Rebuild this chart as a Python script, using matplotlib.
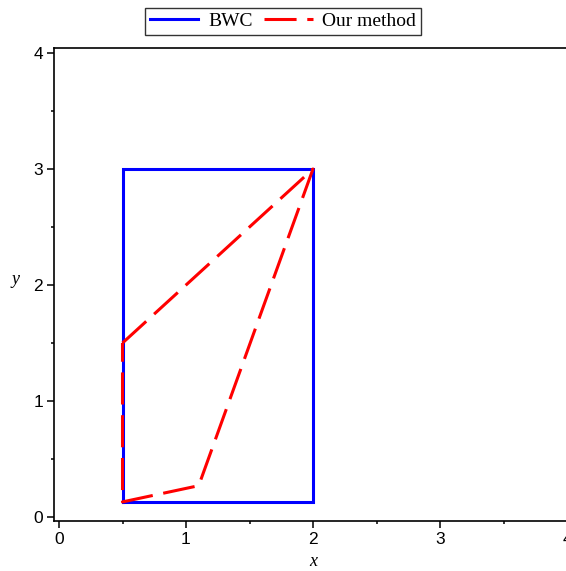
import matplotlib
matplotlib.use("Agg")
import matplotlib.pyplot as plt
from matplotlib.ticker import MultipleLocator

# Data
bwc_x = [0.5, 2.0, 2.0, 0.5, 0.5]
bwc_y = [0.13, 0.13, 3.0, 3.0, 0.13]
our_x = [0.5, 2.0, 1.1, 0.5, 0.5]
our_y = [1.5, 3.0, 0.27, 0.13, 1.5]
xticks = [0, 1, 2, 3, 4]
yticks = [0, 1, 2, 3, 4]

W, H = 566, 571
fig = plt.figure(figsize=(W / 100, H / 100), dpi=100)
left, right, bottom, top = 54, 585, 521, 48
ax = fig.add_axes([left / W, (H - bottom) / H, (right - left) / W, (bottom - top) / H])

px_per_x = 127.0
x0_px = 59
ax.set_xlim((left - x0_px) / px_per_x, (right - x0_px) / px_per_x)
px_per_y = 116.0
y0_px = 517
ax.set_ylim(-(bottom - y0_px) / px_per_y, (y0_px - top) / px_per_y)

ax.plot(bwc_x, bwc_y, color="#0000ff", lw=2.2, label="BWC", zorder=2,
        solid_joinstyle="miter")
ax.plot(our_x, our_y, color="#ff0000", lw=2.2, label="Our method", zorder=3,
        dashes=(10.5, 3.5))

ax.set_xticks(xticks)
ax.set_yticks(yticks)
ax.xaxis.set_minor_locator(MultipleLocator(0.5))
ax.yaxis.set_minor_locator(MultipleLocator(0.5))
ax.tick_params(which="major", direction="out", length=5, width=1.1,
               labelsize=12.5, pad=3)
ax.tick_params(which="minor", direction="out", length=2.5, width=1.1)
for lab in ax.get_xticklabels() + ax.get_yticklabels():
    lab.set_family("Liberation Sans")

for s in ["left", "top", "bottom"]:
    ax.spines[s].set_linewidth(1.2)
ax.spines["right"].set_visible(False)

ax.set_xlabel("x", family="Liberation Serif", style="italic", fontsize=13, labelpad=0)
ax.xaxis.set_label_coords((313 - left) / (right - left), -(553 - bottom) / (bottom - top))
ax.set_ylabel("y", family="Liberation Serif", style="italic", fontsize=13, rotation=0)
ax.yaxis.set_label_coords(-(left - 16) / (right - left), (bottom - 288) / (bottom - top))

leg = fig.legend(loc="center", bbox_to_anchor=(283 / W, 1 - 21.5 / H), ncol=2,
                 prop={"family": "Liberation Serif", "size": 14},
                 frameon=True, fancybox=False, edgecolor="black",
                 handlelength=2.5, handletextpad=0.5, columnspacing=0.6,
                 borderpad=0.25, borderaxespad=0)
leg.get_frame().set_linewidth(1.0)

fig.savefig("out.png", dpi=100)
